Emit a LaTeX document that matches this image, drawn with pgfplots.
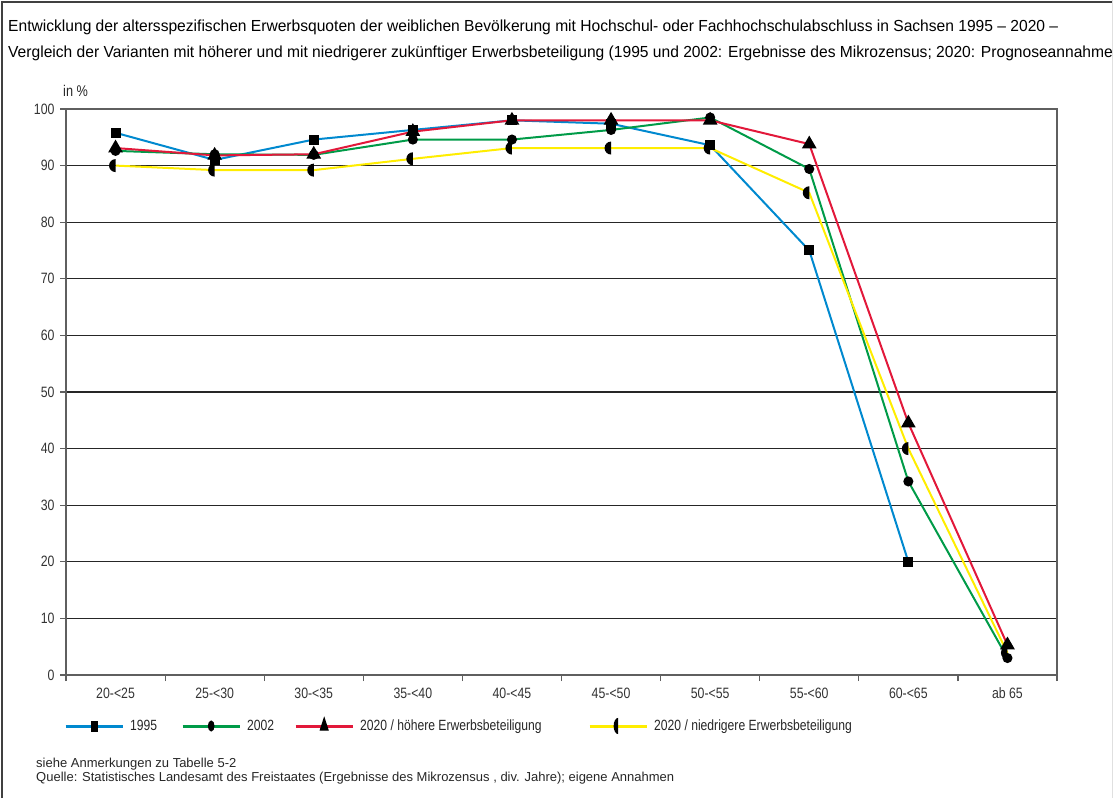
\documentclass[border=0pt]{standalone}
\usepackage{fontspec}
\setmainfont{Liberation Sans}[FakeStretch=0.82]
\newfontfamily\titlefont{Liberation Sans}[FakeStretch=0.975]
\newfontfamily\footfont{Liberation Sans}
\usepackage{pgfplots}
\pgfplotsset{compat=1.18}
\usetikzlibrary{plotmarks}

\definecolor{cblue}{RGB}{0,137,207}
\definecolor{cgreen}{RGB}{0,155,72}
\definecolor{cred}{RGB}{226,24,58}
\definecolor{cyellow}{RGB}{255,237,0}
\definecolor{axisgray}{RGB}{95,95,95}

% left half of a filled circle
\pgfdeclareplotmark{lefthalf}{%
  \pgfpathmoveto{\pgfqpoint{0pt}{\pgfplotmarksize}}%
  \pgfpatharc{90}{270}{\pgfplotmarksize}%
  \pgfpathclose
  \pgfusepathqfill}

\begin{document}
\begin{tikzpicture}[x=1pt,y=1pt]
\useasboundingbox (0,0) rectangle (1113,798);
\draw[line width=1.5pt, black!75] (2,0) -- (2,796) -- (1113,796);
\draw[line width=1pt, black!12] (1112,0) -- (1112,798);

\node[anchor=base west, inner sep=0pt, font=\titlefont\fontsize{16}{18}\selectfont] at (8,766)
  {Entwicklung der altersspezifischen Erwerbsquoten der weiblichen Bevölkerung mit Hochschul- oder Fachhochschulabschluss in Sachsen 1995 – 2020 –};
\node[anchor=base west, inner sep=0pt, font=\titlefont\fontsize{16}{18}\selectfont] at (8,740)
  {Vergleich der Varianten mit höherer und mit niedrigerer zukünftiger Erwerbsbeteiligung (1995 und 2002: Ergebnisse des Mikrozensus; 2020: Prognoseannahmen)};
\node[anchor=base west, inner sep=0pt, font=\fontsize{15.5}{17}\selectfont, text=black!85] at (63,701) {in \%};

\begin{axis}[
  at={(66pt,123pt)}, anchor=south west,
  scale only axis,
  width=991pt, height=566pt,
  xmin=-0.5, xmax=9.5,
  ymin=0, ymax=100,
  clip=false,
  axis line style={axisgray, line width=1.6pt},
  xtick={0,...,9},
  xticklabels={20-<25,25-<30,30-<35,35-<40,40-<45,45-<50,50-<55,55-<60,60-<65,ab 65},
  major x tick style={draw=none},
  minor xtick={-0.5,0.5,...,9.5},
  minor x tick style={axisgray, line width=1.2pt},
  minor tick length=6pt,
  ytick={0,10,...,100},
  major y tick style={axisgray, line width=1.2pt},
  major tick length=6pt,
  tick align=outside,
  xtick pos=bottom, ytick pos=left,
  ymajorgrids,
  grid style={black!85, line width=1.2pt},
  tick label style={font=\fontsize{15}{17}\selectfont, text=black!80},
  /pgf/number format/assume math mode=true,
  xticklabel style={yshift=-3pt},
  yticklabel style={xshift=-2pt},
  legend columns=4,
  legend style={at={(0,0)}, anchor=west, xshift=-2pt, yshift=-51pt,
    draw=none, fill=none, inner sep=0pt,
    nodes={inner sep=0pt},
    font=\fontsize{14.8}{17}\selectfont, text=black!85,
    column sep=0pt,
    /tikz/every odd column/.append style={column sep=6pt}},
  legend cell align=left,
  legend image code/.code={%
    \draw[#1, line width=3pt, mark options={solid, fill=black, draw=black, line width=1pt, xscale=0.7, yscale=1.25},
      mark repeat=2, mark phase=2]
      plot coordinates {(0pt,0pt) (28.5pt,0pt) (57pt,0pt)};},
  every axis plot/.append style={line width=2pt, mark options={solid, fill=black, draw=black}},
]
\addplot[cblue, mark=square*, mark size=4pt] coordinates {
 (0,95.8) (1,91.0) (2,94.6) (3,96.3) (4,98.0) (5,97.4) (6,93.6) (7,75.0) (8,20.0)
};
\addlegendentry{\makebox[51pt][l]{1995}}
\addplot[cgreen, mark=*, mark size=4pt] coordinates {
 (0,92.6) (1,92.0) (2,91.9) (3,94.6) (4,94.6) (5,96.3) (6,98.5) (7,89.4) (8,34.2) (9,3.0)
};
\addlegendentry{\makebox[47pt][l]{2002}}
\addplot[cred, mark=triangle*, mark size=6.5pt] coordinates {
 (0,93.1) (1,91.8) (2,92.0) (3,96.0) (4,98.0) (5,98.0) (6,98.0) (7,93.8) (8,44.5) (9,5.3)
};
\addlegendentry{\makebox[228pt][l]{2020 / höhere Erwerbsbeteiligung}}
\addplot[cyellow, mark=lefthalf, mark size=6.5pt] coordinates {
 (0,90.0) (1,89.2) (2,89.2) (3,91.2) (4,93.1) (5,93.1) (6,93.1) (7,85.2) (8,40.0) (9,3.9)
};
\addlegendentry{2020 / niedrigere Erwerbsbeteiligung}
\end{axis}

\node[anchor=base west, inner sep=0pt, font=\footfont\fontsize{13}{15}\selectfont, text=black!85] at (36,30.5) {siehe Anmerkungen zu Tabelle 5-2};
\node[anchor=base west, inner sep=0pt, font=\footfont\fontsize{13}{15}\selectfont, text=black!85] at (36,16.5) {Quelle: Statistisches Landesamt des Freistaates (Ergebnisse des Mikrozensus , div. Jahre); eigene Annahmen};
\end{tikzpicture}
\end{document}
